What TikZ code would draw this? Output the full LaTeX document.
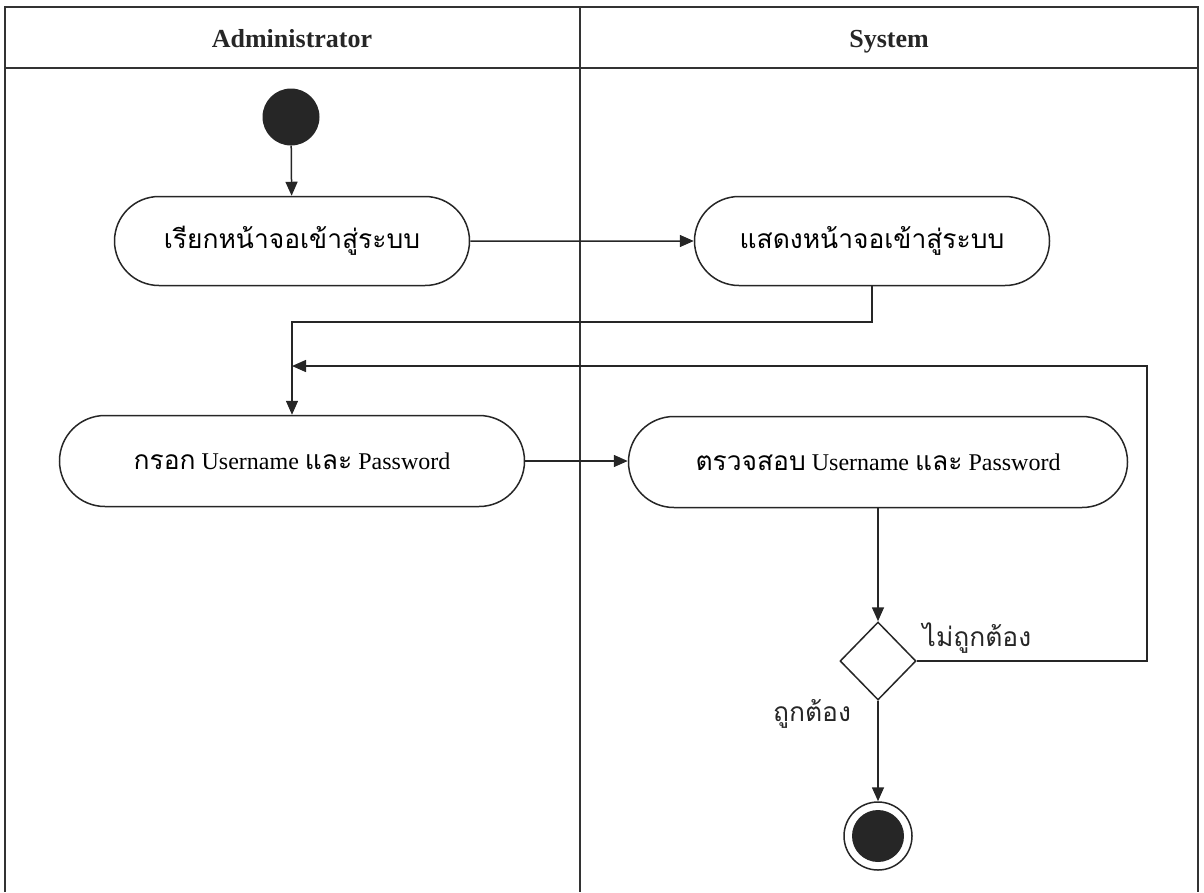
\documentclass[tikz,border=0pt]{standalone}
\usepackage{fontspec}
\setmainfont{Liberation Serif}
\newfontfamily\thaifont[Script=Thai,Scale=1.1]{Loma}
\usetikzlibrary{shapes.misc,shapes.geometric,arrows.meta}
\tikzset{
  lane/.style={line width=1.2pt, draw=black!80},
  activity/.style={rounded rectangle, draw=black!85, line width=1.5pt, font=\fontsize{24}{28}\selectfont, inner sep=0pt},
  arr/.style={line width=1.5pt, draw=black!85, -{Triangle[length=14pt,width=12pt]}},
  lbl/.style={font=\fontsize{24}{28}\selectfont\thaifont, text=black!85},
  hdr/.style={font=\fontsize{26}{30}\selectfont\bfseries, text=black!85, anchor=base}
}
\begin{document}
\begin{tikzpicture}[x=1pt,y=-1pt]
\useasboundingbox (0,0) rectangle (1204,892);
% swimlane frame
\draw[lane] (5,892) -- (5,7) -- (1198,7) -- (1198,892);
\draw[lane] (5,68) -- (1198,68);
\draw[lane] (580,7) -- (580,892);
\node[hdr] (hadmin) at (292,47) {Administrator};
\node[hdr] (hsys) at (889,47) {System};
% nodes
\node[circle, fill=black!85, minimum size=57pt, inner sep=0pt] (start) at (291,117) {};
\node[activity, minimum width=355pt, minimum height=89pt] (a1) at (292,241) {\thaifont เรียกหน้าจอเข้าสู่ระบบ};
\node[activity, minimum width=355pt, minimum height=89pt] (a2) at (872,241) {\thaifont แสดงหน้าจอเข้าสู่ระบบ};
\node[activity, minimum width=465pt, minimum height=91pt] (a3) at (292,461) {{\thaifont กรอก} Username {\thaifont และ} Password};
\node[activity, minimum width=499pt, minimum height=91pt] (a4) at (878,462) {{\thaifont ตรวจสอบ} Username {\thaifont และ} Password};
\node[diamond, draw=black!85, line width=1.5pt, minimum width=76pt, minimum height=78pt, inner sep=0pt] (dec) at (878,661) {};
\node[circle, draw=black!85, line width=1.5pt, minimum size=68pt, inner sep=0pt] (end) at (878,836) {};
\fill[black!85] (end.center) circle (26);
\node[lbl] (lno) at (977,638) {ไม่ถูกต้อง};
\node[lbl] (lyes) at (812,714) {ถูกต้อง};
% coordinates
\coordinate (bend1) at (872,322);
\coordinate (loopc) at (1147,366);
\coordinate (loopend) at (292,366);
% connectors
\draw[arr] (start) -- (a1);
\draw[arr] (a1) -- (a2);
\draw[arr] (a2.south) -- (bend1) -| (a3.north);
\draw[arr] (dec.east) -| (loopc) -- (loopend);
\draw[arr] (a3.east) -- (a3.east -| a4.west);
\draw[arr] (a4.south) -- (dec.north);
\draw[arr] (dec.south) -- (end.north);
\end{tikzpicture}
\end{document}
